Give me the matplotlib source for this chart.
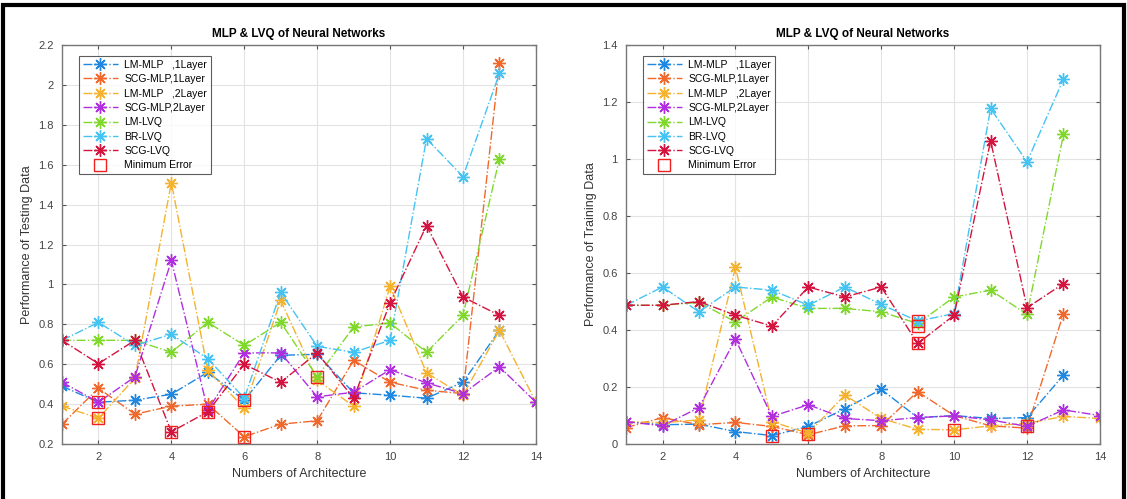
import numpy as np
import matplotlib.pyplot as plt
from matplotlib.patches import Rectangle
from matplotlib.ticker import FormatStrFormatter, MultipleLocator

plt.rcParams['font.family'] = ['Liberation Sans', 'DejaVu Sans']

## Nomes das séries
labels = ['LM-MLP   ,1Layer', 'SCG-MLP,1Layer', 'LM-MLP   ,2Layer', 'SCG-MLP,2Layer',
          'LM-LVQ', 'BR-LVQ', 'SCG-LVQ']
colors = ['#2088e0', '#f0682c', '#f5b22e', '#b02ee0', '#80d82c', '#45c3f2', '#d4143f']

## Dados de teste (gráfico esquerdo)
test_lm1 = [0.49, 0.41, 0.42, 0.45, 0.56, 0.42, 0.645, 0.65, 0.457, 0.445, 0.43, 0.51, 0.77]
test_scg1 = [0.30, 0.48, 0.35, 0.39, 0.40, 0.237, 0.30, 0.317, 0.62, 0.51, 0.47, 0.453, 2.11]
test_lm2 = [0.39, 0.33, 0.53, 1.51, 0.57, 0.38, 0.92, 0.52, 0.39, 0.99, 0.557, 0.445, 0.77, 0.41]
test_scg2 = [0.51, 0.41, 0.537, 1.12, 0.37, 0.657, 0.657, 0.437, 0.46, 0.573, 0.507, 0.453, 0.587, 0.41]
test_lmlvq = [0.72, 0.72, 0.72, 0.66, 0.81, 0.695, 0.81, 0.537, 0.787, 0.807, 0.66, 0.845, 1.63]
test_brlvq = [0.72, 0.81, 0.695, 0.75, 0.628, 0.43, 0.96, 0.69, 0.66, 0.72, 1.73, 1.54, 2.057]
test_scglvq = [0.72, 0.603, 0.72, 0.262, 0.362, 0.60, 0.51, 0.657, 0.43, 0.907, 1.295, 0.937, 0.845]
test_min_x = [2, 2, 4, 5, 6, 6, 8]
test_min_y = [0.41, 0.33, 0.262, 0.362, 0.42, 0.237, 0.537]

## Dados de treino (gráfico direito)
train_lm1 = [0.079, 0.068, 0.07, 0.044, 0.03, 0.062, 0.124, 0.192, 0.093, 0.10, 0.09, 0.093, 0.242]
train_scg1 = [0.058, 0.093, 0.068, 0.076, 0.062, 0.033, 0.064, 0.065, 0.184, 0.10, 0.064, 0.056, 0.458]
train_lm2 = [0.079, 0.075, 0.085, 0.62, 0.079, 0.038, 0.172, 0.09, 0.052, 0.05, 0.064, 0.073, 0.097, 0.09]
train_scg2 = [0.079, 0.064, 0.128, 0.368, 0.097, 0.138, 0.09, 0.082, 0.093, 0.099, 0.085, 0.062, 0.12, 0.10]
train_lmlvq = [0.487, 0.487, 0.497, 0.429, 0.516, 0.476, 0.476, 0.464, 0.423, 0.516, 0.54, 0.455, 1.087]
train_brlvq = [0.487, 0.551, 0.464, 0.551, 0.54, 0.487, 0.551, 0.49, 0.431, 0.458, 1.177, 0.99, 1.28]
train_scglvq = [0.487, 0.487, 0.50, 0.452, 0.414, 0.551, 0.516, 0.551, 0.353, 0.452, 1.064, 0.478, 0.563]
train_min_x = [5, 6, 9, 9, 9, 10, 12]
train_min_y = [0.03, 0.036, 0.43, 0.415, 0.353, 0.05, 0.062]

test_series = [test_lm1, test_scg1, test_lm2, test_scg2, test_lmlvq, test_brlvq, test_scglvq]
train_series = [train_lm1, train_scg1, train_lm2, train_scg2, train_lmlvq, train_brlvq, train_scglvq]

asterisco = (8, 2, 0)   # marcador tipo '*' do MATLAB


def desenha(ax, series, min_x, min_y, ylim, ylabel):
    for s, lab, c in zip(series, labels, colors):
        x = np.arange(1, len(s) + 1)
        ax.plot(x, s, linestyle='-.', marker=asterisco, color=c, lw=1.0, ms=9,
                mew=1.0, label=lab)
    ax.plot(min_x, min_y, 's', mfc='none', mec='#f02020', ms=9, mew=1.0,
            linestyle='none', label='Minimum Error')
    ax.set_xlim(1, 14)
    ax.set_ylim(*ylim)
    ax.xaxis.set_major_locator(MultipleLocator(2))
    ax.yaxis.set_major_locator(MultipleLocator(0.2))
    ax.yaxis.set_major_formatter(FormatStrFormatter('%g'))
    ax.grid(True, color='#e3e3e3', lw=0.8)
    ax.set_axisbelow(True)
    ax.tick_params(direction='in', top=True, right=True, labelsize=8,
                   colors='#555555', labelcolor='#444444', length=3, pad=6)
    for sp in ax.spines.values():
        sp.set_color('#777777')
        sp.set_linewidth(1.0)
    ax.set_title('MLP & LVQ of Neural Networks', fontsize=8.5, fontweight='bold', pad=6)
    ax.set_xlabel('Numbers of Architecture', fontsize=9, color='#333333')
    ax.set_ylabel(ylabel, fontsize=9, color='#333333')
    leg = ax.legend(loc='upper left', fontsize=7.5, frameon=True, fancybox=False,
                    borderpad=0.35, labelspacing=0.42, handlelength=3.4,
                    handletextpad=0.6, bbox_to_anchor=(0.025, 0.985))
    leg.get_frame().set_edgecolor('#333333')
    leg.get_frame().set_linewidth(0.8)


fig = plt.figure(figsize=(11.27, 4.99), dpi=100)
ax1 = fig.add_axes([0.055, 0.110, 0.4205, 0.800])
ax2 = fig.add_axes([0.5555, 0.110, 0.4205, 0.800])

desenha(ax1, test_series, test_min_x, test_min_y, (0.2, 2.2), 'Performance of Testing Data')
desenha(ax2, train_series, train_min_x, train_min_y, (0, 1.4), 'Performance of Training Data')

# Moldura preta em volta da figura
fig.patches.append(Rectangle((0.003, -0.02), 0.994, 1.01, transform=fig.transFigure,
                             fill=False, lw=3, ec='black'))

fig.savefig('out.png', dpi=100)
